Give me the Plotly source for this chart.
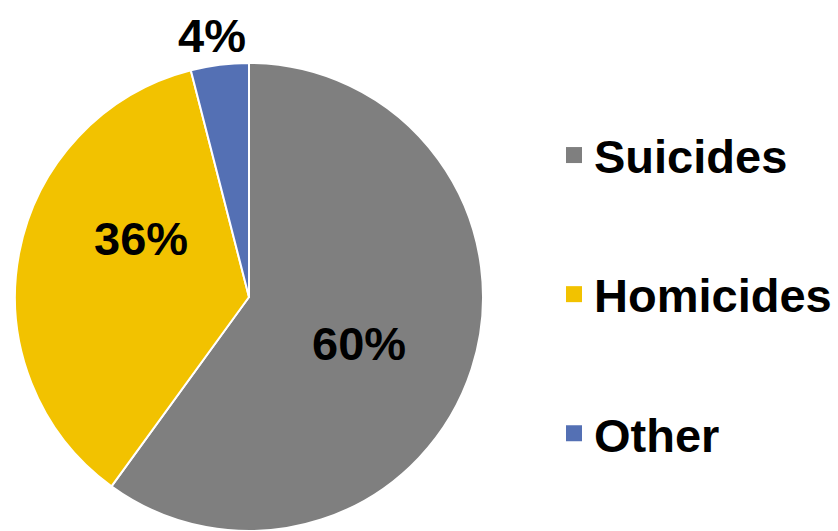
import plotly.graph_objects as go

categories = ["Suicides", "Homicides", "Other"]
shares = [60, 36, 4]
colors = ["#7f7f7f", "#f2c200", "#5470b4"]

W, H = 838, 531
FONT = "Liberation Sans, Arial, sans-serif"
FS = 47

# pie geometry (pixels): centre and radius
CX, CY, R = 249, 297, 234
# label centres (pixels) for each slice's percentage
label_px = [(359, 343), (141, 238), (212, 35)]

fig = go.Figure()
fig.add_trace(go.Pie(
    labels=categories,
    values=shares,
    sort=False,
    direction="clockwise",
    rotation=0,
    marker=dict(colors=colors, line=dict(color="white", width=2)),
    textinfo="none",
    domain=dict(x=[(CX - R) / W, (CX + R) / W], y=[max(0, (H - CY - R) / H), (H - CY + R) / H]),
    showlegend=False,
    hoverinfo="label+percent",
))

total = sum(shares)
for v, (px, py) in zip(shares, label_px):
    fig.add_annotation(
        text=f"{round(100 * v / total)}%",
        x=px / W, y=1 - py / H, xref="paper", yref="paper",
        xanchor="center", yanchor="middle", showarrow=False,
        font=dict(family=FONT, size=FS, color="black", weight="bold"),
    )

# Legend entries (one per category, same colours as slices)
for name, col in zip(categories, colors):
    fig.add_trace(go.Scatter(
        x=[None], y=[None], mode="markers", name=name,
        legendgroup=name,
        marker=dict(symbol="square", size=16, color=col),
        hoverinfo="skip",
    ))

fig.update_layout(
    width=W, height=H,
    margin=dict(l=0, r=0, t=0, b=0, autoexpand=False),
    paper_bgcolor="white",
    plot_bgcolor="white",
    xaxis=dict(visible=False),
    yaxis=dict(visible=False),
    legend=dict(
        x=554 / W, xanchor="left",
        y=1 - 118 / H, yanchor="top",
        font=dict(family=FONT, size=FS, color="black", weight="bold"),
        tracegroupgap=75,
        itemwidth=30,
        borderwidth=0,
        maxheight=1000,
        bgcolor="rgba(0,0,0,0)",
    ),
)

fig.write_html("out.html", config={"displayModeBar": False},
               post_script="document.body.style.margin='0px';")
